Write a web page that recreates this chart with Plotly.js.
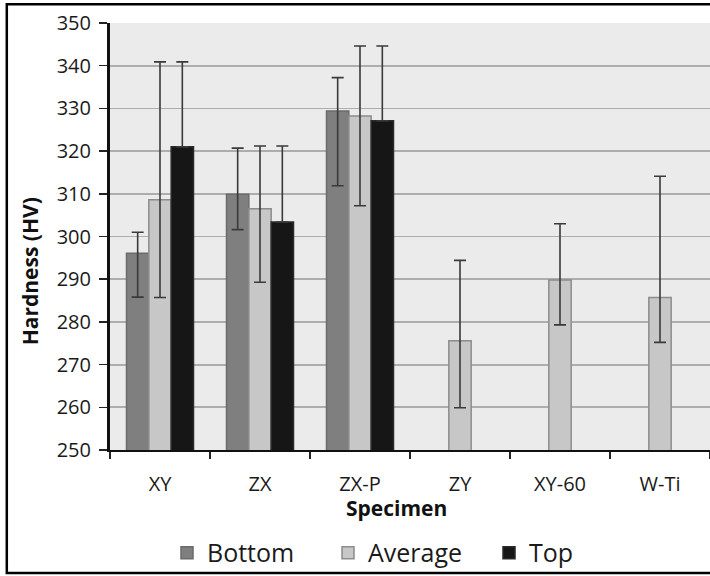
<!DOCTYPE html>
<html>
<head>
<meta charset="utf-8">
<script src="https://cdn.plot.ly/plotly-3.0.1.min.js"></script>
<style>
  html, body { margin: 0; padding: 0; background: #ffffff; }
  #chart { width: 710px; height: 576px; }
</style>
</head>
<body>
<div id="chart"></div>
<script>
// Categories (specimens)
const categories = ['XY', 'ZX', 'ZX-P', 'ZY', 'XY-60', 'W-Ti'];

// Bottom series
const bottomValues = [296.1, 309.9, 329.4, null, null, null];
const bottomErrPlus = [4.9, 10.8, 7.8, null, null, null];
const bottomErrMinus = [10.3, 8.3, 17.5, null, null, null];

// Average series
const averageValues = [308.6, 306.5, 328.2, 275.6, 289.8, 285.7];
const averageErrPlus = [32.3, 14.7, 16.4, 18.8, 13.2, 28.4];
const averageErrMinus = [22.9, 17.2, 21.0, 15.7, 10.5, 10.5];

// Top series (lower whiskers are hidden inside the black bars in the source)
const topValues = [321.0, 303.4, 327.1, null, null, null];
const topErrPlus = [19.9, 17.8, 17.5, null, null, null];
const topErrMinus = [0, 0, 0, null, null, null];

// Axis ticks and titles
const yTickValues = [250, 260, 270, 280, 290, 300, 310, 320, 330, 340, 350];
const xTitle = 'Specimen';
const yTitle = 'Hardness (HV)';

const FONT = 'Open Sans, Lato, sans-serif';
const errStyle = { thickness: 1.6, width: 6, color: '#3a3a3a' };

function barTrace(name, values, plus, minus, fill, outline) {
  return {
    type: 'bar',
    name: name,
    x: categories,
    y: values,
    marker: { color: fill, line: { color: outline, width: 1.5 } },
    error_y: Object.assign({ type: 'data', symmetric: false, array: plus, arrayminus: minus, visible: true }, errStyle),
    hoverinfo: 'x+y'
  };
}

const traces = [
  barTrace('Bottom', bottomValues, bottomErrPlus, bottomErrMinus, '#7f7f7f', '#6b6b6b'),
  barTrace('Average', averageValues, averageErrPlus, averageErrMinus, '#c6c7c6', '#8c8c8c'),
  barTrace('Top', topValues, topErrPlus, topErrMinus, '#161616', '#2a2a2a')
];

const layout = {
  width: 710,
  height: 576,
  margin: { l: 110, r: 0, t: 23, b: 126, autoexpand: false },
  paper_bgcolor: '#ffffff',
  plot_bgcolor: '#ebebeb',
  barmode: 'group',
  bargap: 0.33,
  bargroupgap: 0,
  font: { family: FONT, color: '#1a1a1a' },
  xaxis: {
    type: 'category',
    range: [-0.5, 5.5],
    showline: true,
    linecolor: '#111111',
    linewidth: 2,
    ticks: 'outside',
    ticklen: 7,
    tickwidth: 1.5,
    tickcolor: '#222222',
    tickson: 'boundaries',
    showgrid: false,
    ticklabelstandoff: 15,
    tickfont: { family: FONT, size: 20, color: '#1a1a1a' },
    automargin: false,
    fixedrange: true
  },
  yaxis: {
    range: [250, 350],
    tickvals: yTickValues,
    ticktext: yTickValues.map(String),
    showline: true,
    linecolor: '#111111',
    linewidth: 3,
    ticks: 'outside',
    ticklen: 8,
    tickwidth: 1.5,
    tickcolor: '#222222',
    showgrid: true,
    gridcolor: '#adadad',
    gridwidth: 1.8,
    zeroline: false,
    ticklabelstandoff: 4,
    tickfont: { family: FONT, size: 20, color: '#1a1a1a' },
    automargin: false,
    fixedrange: true
  },
  annotations: [
    { text: '<b>' + yTitle + '</b>', xref: 'paper', yref: 'paper', x: -0.133, y: 0.419,
      xanchor: 'center', yanchor: 'middle', textangle: -90, showarrow: false,
      font: { family: FONT, size: 21, color: '#111111' } },
    { text: '<b>' + xTitle + '</b>', xref: 'paper', yref: 'paper', x: 0.478, y: -0.136,
      xanchor: 'center', yanchor: 'middle', showarrow: false,
      font: { family: FONT, size: 21, color: '#111111' } }
  ],
  showlegend: true,
  legend: {
    orientation: 'h',
    x: 0.095,
    xanchor: 'left',
    y: -0.241,
    yanchor: 'middle',
    font: { family: FONT, size: 25, color: '#1a1a1a' },
    entrywidth: 116,
    entrywidthmode: 'pixels',
    bgcolor: 'rgba(0,0,0,0)'
  },
  shapes: [
    { type: 'rect', xref: 'paper', yref: 'paper', x0: -0.172, x1: 1.01, y0: -0.288, y1: 1.044,
      line: { color: '#000000', width: 2.5 }, fillcolor: 'rgba(0,0,0,0)', layer: 'above' }
  ]
};

Plotly.newPlot('chart', traces, layout, { displayModeBar: false, staticPlot: true });
</script>
</body>
</html>
